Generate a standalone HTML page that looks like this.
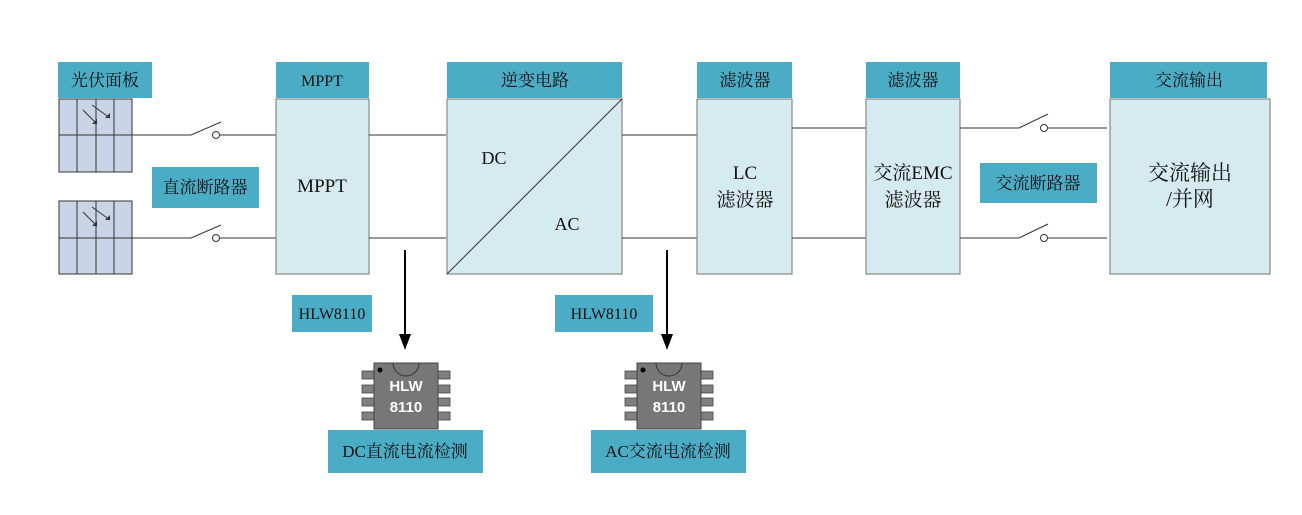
<!DOCTYPE html>
<html><head><meta charset="utf-8"><style>
body{margin:0;background:#fff}
svg{display:block}
text{font-family:"Liberation Serif","Noto Serif CJK SC",serif;fill:#111}
.h{fill:#4BACC6}
.b{fill:#D5EBF0;stroke:#888;stroke-width:1.2}
.l{stroke:#333;stroke-width:1}
.p{fill:#C9D5E6;stroke:#333;stroke-width:1}
.pin{fill:#808080;stroke:#444;stroke-width:.8}
</style></head><body>
<svg width="1302" height="515" viewBox="0 0 1302 515">
<g>
<rect x="59" y="99" width="73" height="73" class="p"/>
<line x1="77" y1="99" x2="77" y2="172" class="l"/><line x1="96" y1="99" x2="96" y2="172" class="l"/><line x1="114" y1="99" x2="114" y2="172" class="l"/><line x1="59" y1="135" x2="132" y2="135" class="l"/>
<path d="M83,110 L97,124 M92,105 L110,118" class="l"/>
<path d="M97,124 l-5,0 l5,-5z M110,118 l-5,0 l5,-5z" fill="#333"/>
<rect x="59" y="201" width="73" height="73" class="p"/>
<line x1="77" y1="201" x2="77" y2="274" class="l"/><line x1="96" y1="201" x2="96" y2="274" class="l"/><line x1="114" y1="201" x2="114" y2="274" class="l"/><line x1="59" y1="238" x2="132" y2="238" class="l"/>
<path d="M83,212 L97,226 M92,207 L110,220" class="l"/>
<path d="M97,226 l-5,0 l5,-5z M110,220 l-5,0 l5,-5z" fill="#333"/>
</g>
<rect x="58" y="62" width="94" height="36" class="h"/><text x="105" y="86" font-size="17" text-anchor="middle">光伏面板</text>
<path d="M132,135 H191 L221,122 M220,135 H276 M132,238 H191 L221,225 M220,238 H276" class="l" fill="none"/>
<circle cx="216" cy="135" r="3.5" fill="none" class="l"/><circle cx="216" cy="238" r="3.5" fill="none" class="l"/>
<rect x="152" y="167" width="107" height="41" class="h"/><text x="205" y="193" font-size="17" text-anchor="middle">直流断路器</text>
<rect x="276" y="99" width="93" height="175" class="b"/>
<rect x="276" y="62" width="93" height="36" class="h"/><text x="322" y="86" font-size="16" text-anchor="middle">MPPT</text>
<text x="322" y="192" font-size="19" text-anchor="middle">MPPT</text>
<path d="M369,135 H446 M369,238 H446" class="l"/>
<rect x="447" y="99" width="175" height="175" class="b"/>
<line x1="447" y1="274" x2="622" y2="99" class="l"/>
<rect x="447" y="62" width="175" height="36" class="h"/><text x="535" y="86" font-size="17" text-anchor="middle">逆变电路</text>
<text x="494" y="164" font-size="18" text-anchor="middle">DC</text>
<text x="567" y="230" font-size="18" text-anchor="middle">AC</text>
<path d="M622,135 H697 M622,238 H697" class="l"/>
<rect x="697" y="99" width="95" height="175" class="b"/>
<rect x="697" y="62" width="95" height="36" class="h"/><text x="745" y="86" font-size="17" text-anchor="middle">滤波器</text>
<text x="745" y="179" font-size="19" text-anchor="middle">LC</text>
<text x="745" y="206" font-size="19" text-anchor="middle">滤波器</text>
<path d="M792,128 H866 M792,238 H866" class="l"/>
<rect x="866" y="99" width="94" height="175" class="b"/>
<rect x="866" y="62" width="94" height="36" class="h"/><text x="913" y="86" font-size="17" text-anchor="middle">滤波器</text>
<text x="913" y="179" font-size="19" text-anchor="middle">交流EMC</text>
<text x="913" y="206" font-size="19" text-anchor="middle">滤波器</text>
<path d="M960,128 H1019 L1048,114 M1047,128 H1107 M960,238 H1019 L1048,224 M1047,238 H1107" class="l" fill="none"/>
<circle cx="1044" cy="128" r="3.5" fill="none" class="l"/><circle cx="1044" cy="238" r="3.5" fill="none" class="l"/>
<rect x="980" y="163" width="117" height="40" class="h"/><text x="1038" y="189" font-size="17" text-anchor="middle">交流断路器</text>
<rect x="1110" y="99" width="160" height="175" class="b"/>
<rect x="1110" y="62" width="157" height="36" class="h"/><text x="1189" y="86" font-size="17" text-anchor="middle">交流输出</text>
<text x="1190" y="180" font-size="21" text-anchor="middle">交流输出</text>
<text x="1190" y="206" font-size="21" text-anchor="middle">/并网</text>
<line x1="405" y1="250" x2="405" y2="334" stroke="#000" stroke-width="2"/>
<path d="M399,334 H411 L405,350z" fill="#000"/>
<line x1="667" y1="250" x2="667" y2="334" stroke="#000" stroke-width="2"/>
<path d="M661,334 H673 L667,350z" fill="#000"/>
<rect x="292" y="295" width="80" height="37" class="h"/><text x="332" y="319" font-size="16" text-anchor="middle">HLW8110</text>
<rect x="555" y="295" width="98" height="37" class="h"/><text x="604" y="319" font-size="16" text-anchor="middle">HLW8110</text>
<g id="c1">
<rect x="362" y="371" width="12" height="8" class="pin"/><rect x="362" y="385" width="12" height="8" class="pin"/><rect x="362" y="398" width="12" height="8" class="pin"/><rect x="362" y="412" width="12" height="8" class="pin"/>
<rect x="438" y="371" width="12" height="8" class="pin"/><rect x="438" y="385" width="12" height="8" class="pin"/><rect x="438" y="398" width="12" height="8" class="pin"/><rect x="438" y="412" width="12" height="8" class="pin"/>
<rect x="374" y="363" width="64" height="66" fill="#777" stroke="#444"/>
<path d="M393,363 A12,12 0 0 0 419,363" fill="none" stroke="#333"/>
<circle cx="380" cy="370" r="2.5" fill="#000"/>
<text x="406" y="391" font-size="15" font-weight="bold" text-anchor="middle" style="fill:#fff;font-family:'Liberation Sans',sans-serif">HLW</text>
<text x="406" y="412" font-size="15" font-weight="bold" text-anchor="middle" style="fill:#fff;font-family:'Liberation Sans',sans-serif">8110</text>
</g>
<use href="#c1" x="263"/>
<rect x="328" y="430" width="155" height="43" class="h"/><text x="405" y="457" font-size="17" text-anchor="middle">DC直流电流检测</text>
<rect x="591" y="430" width="155" height="43" class="h"/><text x="668" y="457" font-size="17" text-anchor="middle">AC交流电流检测</text>
</svg>
</body></html>
